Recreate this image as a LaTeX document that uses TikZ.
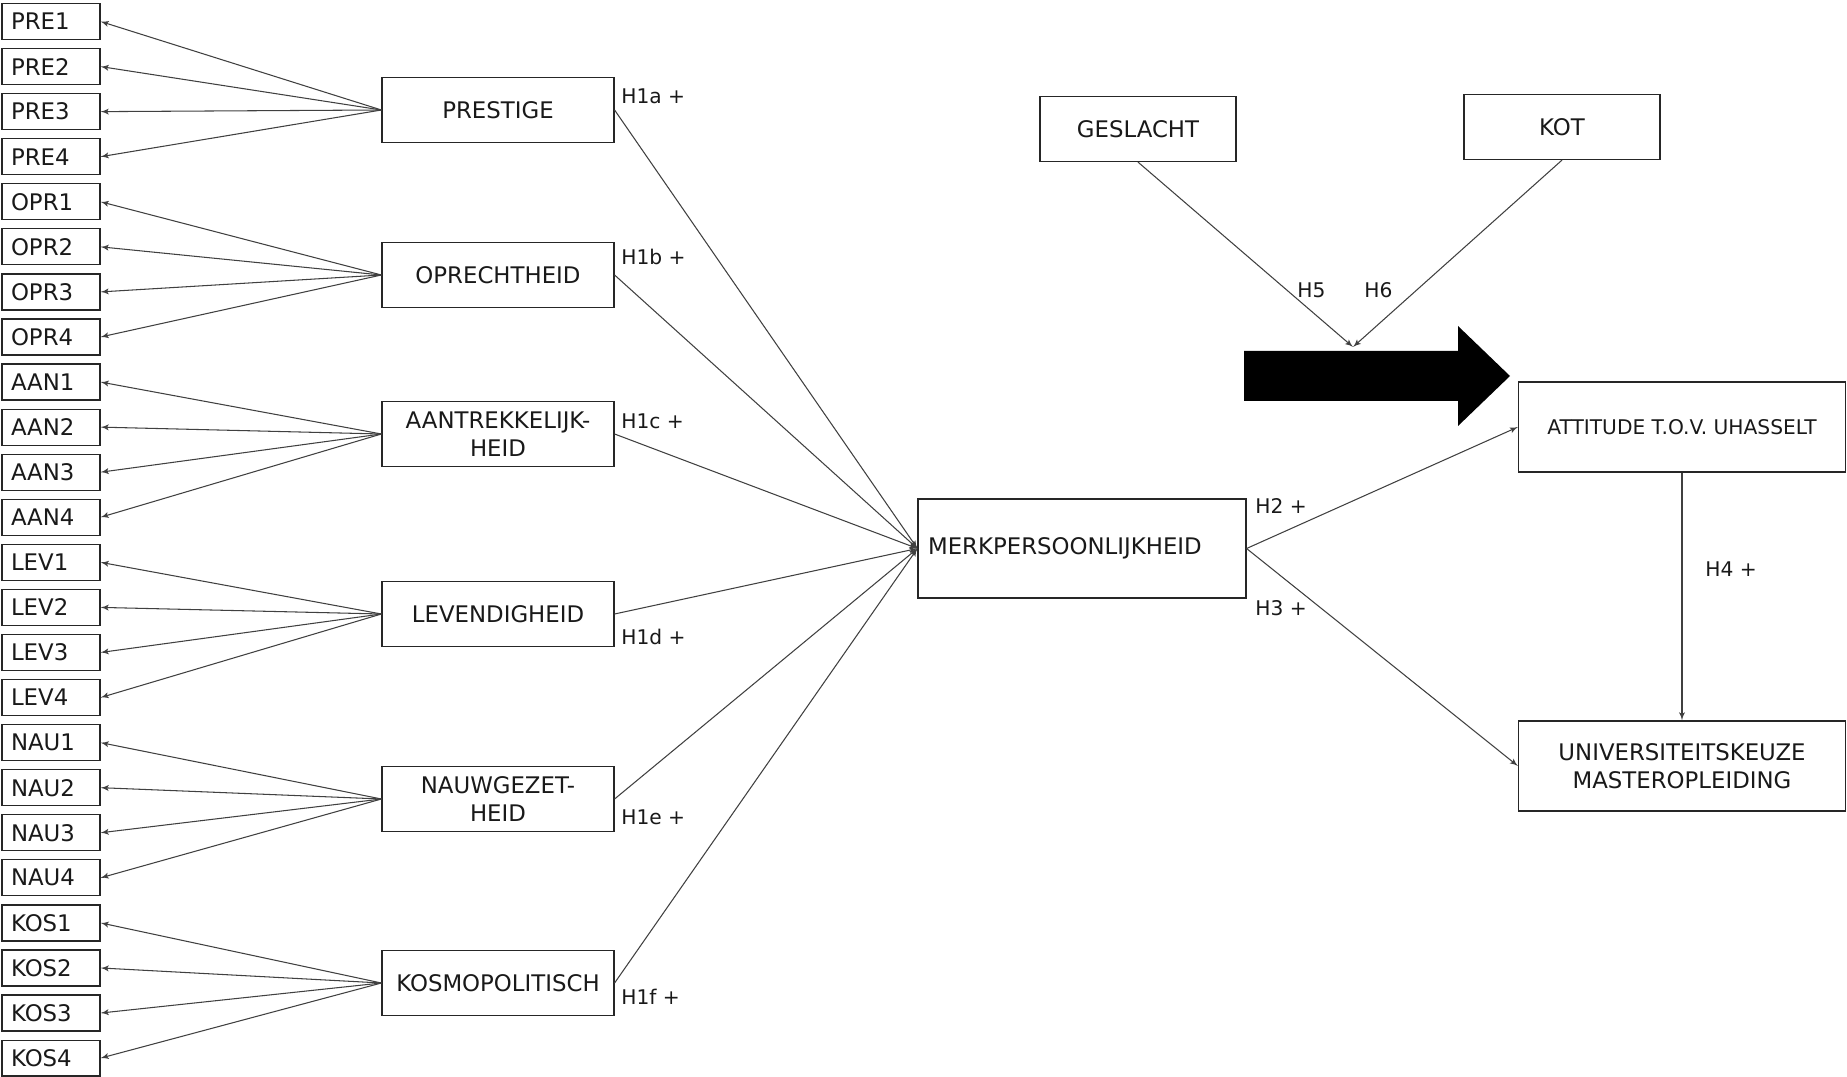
\documentclass[tikz,border=0pt]{standalone}
\usepackage{fontspec}
\setmainfont{DejaVu Sans}
\usetikzlibrary{shapes,arrows,positioning}

\begin{document}
\begin{tikzpicture}[x=0.02cm, y=-0.02cm, >=latex',
    every node/.style={font=\fontsize{13}{16}\selectfont, text=black!90},
    ind/.style={draw=black!85, line width=0.7pt, rectangle, text width=1.6cm, inner xsep=0.18cm, inner ysep=0pt, minimum height=0.72cm, align=left},
    cons/.style={draw=black!85, line width=0.7pt, rectangle, minimum width=4.64cm, minimum height=1.3cm, inner sep=0pt, align=center},
    mod/.style={draw=black!85, line width=0.7pt, rectangle, minimum width=3.92cm, minimum height=1.3cm, inner sep=0pt},
    uitk/.style={draw=black!85, line width=0.7pt, rectangle, minimum width=6.54cm, minimum height=1.8cm, inner sep=0pt, align=center},
    hyp/.style={font=\fontsize{11.5}{14}\selectfont, inner sep=0pt, anchor=west},
    lijn/.style={draw=black!75, line width=0.6pt}]

        \useasboundingbox (0,0) rectangle (1847,1077);

        % Indicatoren
        \foreach \grp [count=\g from 0] in {PRE,OPR,AAN,LEV,NAU,KOS}
            \foreach \k in {1,...,4}
                \node [ind] (\grp\k) at (51,{21.5+45.07*(4*\g+\k-1)}) {\grp\k};

        % Dimensies
        \node [cons] (prestige) at (498,110) {PRESTIGE};
        \node [cons] (oprecht) at (498,275) {OPRECHTHEID};
        \node [cons] (aantrek) at (498,434) {AANTREKKELIJK-\\HEID};
        \node [cons] (levend) at (498,614) {LEVENDIGHEID};
        \node [cons] (nauw) at (498,799) {NAUWGEZET-\\HEID};
        \node [cons] (kosmo) at (498,983) {KOSMOPOLITISCH};

        % Merk en uitkomsten
        \node [draw=black!85, line width=0.7pt, rectangle, text width=6.16cm, inner xsep=0.2cm, inner ysep=0pt, minimum height=1.98cm, align=left] (merk) at (1082,548.5) {MERKPERSOONLIJKHEID};
        \node [uitk, font=\fontsize{11.5}{14}\selectfont] (attitude) at (1682,427) {ATTITUDE T.O.V. UHASSELT};
        \node [uitk] (keuze) at (1682,766) {UNIVERSITEITSKEUZE\\MASTEROPLEIDING};

        % Moderatoren
        \node [mod] (geslacht) at (1138,129) {GESLACHT};
        \node [mod] (kot) at (1562,127) {KOT};
        \coordinate (moderatie) at (1353,347);
        \fill [black] (1244,351) -- (1458,351) -- (1458,326) -- (1510,376) -- (1458,426) -- (1458,401) -- (1244,401) -- cycle;

        % Verbindingen
        \foreach \c/\grp in {prestige/PRE,oprecht/OPR,aantrek/AAN,levend/LEV,nauw/NAU,kosmo/KOS} {
            \foreach \k in {1,...,4}
                \draw [lijn, ->] (\c.west) -- (\grp\k.east);
            \draw [lijn, ->] (\c.east) -- (merk.west);
        }
        \draw [lijn, ->] (merk.east) -- (attitude.west);
        \draw [lijn, ->] (merk.east) -- (keuze.west);
        \draw [lijn, ->] (attitude.south) -- (keuze.north);
        \draw [lijn, ->] (geslacht.south) -- (moderatie);
        \draw [lijn, ->] (kot.south) -- (moderatie);

        % Hypothesen
        \node [hyp] (h1a) at (621,96) {H1a +};
        \node [hyp] (h1b) at (621,257) {H1b +};
        \node [hyp] (h1c) at (621,421) {H1c +};
        \node [hyp] (h1d) at (621,637) {H1d +};
        \node [hyp] (h1e) at (621,817) {H1e +};
        \node [hyp] (h1f) at (621,997) {H1f +};
        \node [hyp] (h2) at (1255,506) {H2 +};
        \node [hyp] (h3) at (1255,608) {H3 +};
        \node [hyp] (h4) at (1705,569) {H4 +};
        \node [hyp] (h5) at (1297,290) {H5};
        \node [hyp] (h6) at (1364,290) {H6};

\end{tikzpicture}
\end{document}
